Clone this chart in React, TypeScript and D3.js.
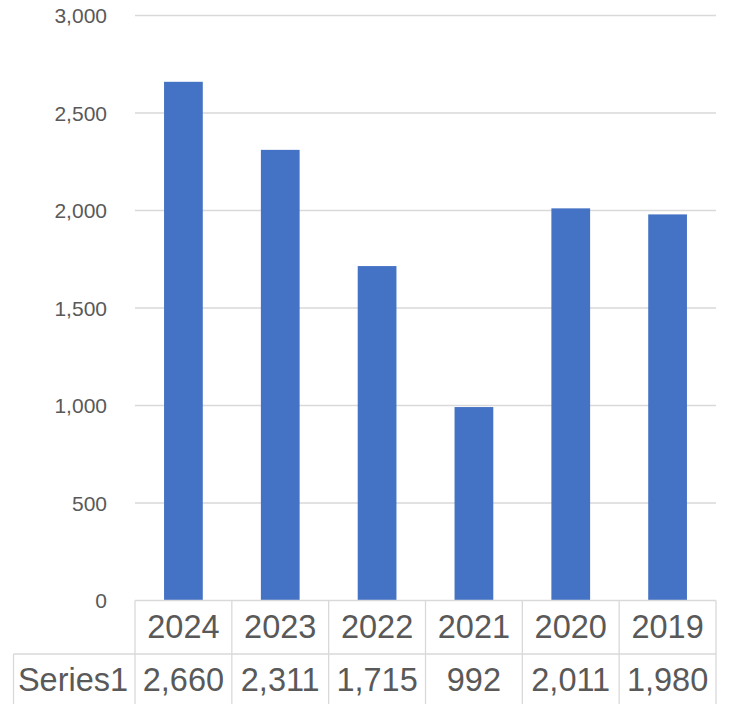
import React, { useRef, useEffect } from 'react';
import * as d3 from 'd3';

// chart data
const categories: string[] = ['2024', '2023', '2022', '2021', '2020', '2019'];
const seriesName = 'Series1';
const values: number[] = [2660, 2311, 1715, 992, 2011, 1980];
const yTicks: number[] = [0, 500, 1000, 1500, 2000, 2500, 3000];

const WIDTH = 730;
const HEIGHT = 704;
const FONT = '"Liberation Sans", Arial, sans-serif';
const TEXT = '#595959';
const LINE = '#d9d9d9';
const BAR = '#4472C4';

const App: React.FC = () => {
  const svgRef = useRef<SVGSVGElement>(null);

  useEffect(() => {
    const svg = d3.select(svgRef.current);
    svg.selectAll('*').remove();

    const plot = { left: 135, right: 716, top: 15.5, bottom: 600.5 };
    const rowH = 53.5;

    const y = d3.scaleLinear().domain([0, 3000]).range([plot.bottom, plot.top]);
    // bars: 40% of each category slot
    const x = d3.scaleBand<string>()
      .domain(categories)
      .range([plot.left, plot.right])
      .paddingInner(0.6)
      .paddingOuter(0.3);
    // data table cells
    const cell = d3.scaleBand<string>()
      .domain(categories)
      .range([plot.left, plot.right]);

    // gridlines
    svg.append('g')
      .selectAll('line')
      .data(yTicks.filter(t => t > 0))
      .join('line')
      .attr('x1', plot.left)
      .attr('x2', plot.right)
      .attr('y1', d => y(d))
      .attr('y2', d => y(d))
      .attr('stroke', LINE)
      .attr('stroke-width', 1.3);

    // y tick labels
    const fmt = d3.format(',');
    svg.append('g')
      .selectAll('text')
      .data(yTicks)
      .join('text')
      .attr('x', 107)
      .attr('y', d => y(d) + 7.6)
      .attr('text-anchor', 'end')
      .attr('font-family', FONT)
      .attr('font-size', 21)
      .attr('fill', TEXT)
      .text(d => fmt(d));

    // bars
    svg.append('g')
      .selectAll('rect')
      .data(values)
      .join('rect')
      .attr('x', (_, i) => x(categories[i]) as number)
      .attr('width', x.bandwidth())
      .attr('y', d => y(d))
      .attr('height', d => y(0) - y(d))
      .attr('fill', BAR);

    // data table borders
    const tbl = svg.append('g')
      .attr('stroke', LINE)
      .attr('stroke-width', 1.3)
      .attr('fill', 'none');
    const tableBottom = plot.bottom + rowH * 2;
    tbl.append('line')
      .attr('x1', plot.left).attr('x2', plot.right)
      .attr('y1', plot.bottom).attr('y2', plot.bottom);
    tbl.append('line')
      .attr('x1', 13.5).attr('x2', plot.right)
      .attr('y1', plot.bottom + rowH).attr('y2', plot.bottom + rowH);
    tbl.append('line')
      .attr('x1', plot.left).attr('x2', plot.right)
      .attr('y1', tableBottom).attr('y2', tableBottom);
    tbl.append('line')
      .attr('x1', 13.5).attr('x2', 13.5)
      .attr('y1', plot.bottom + rowH).attr('y2', tableBottom);
    const edges = categories.map(c => cell(c) as number).concat([plot.right]);
    tbl.selectAll('line.v')
      .data(edges)
      .join('line')
      .attr('class', 'v')
      .attr('x1', d => d).attr('x2', d => d)
      .attr('y1', plot.bottom).attr('y2', tableBottom);

    // table text
    const txt = svg.append('g')
      .attr('font-family', FONT)
      .attr('font-size', 32.5)
      .attr('fill', TEXT)
      .attr('text-anchor', 'middle');
    txt.selectAll('text.cat')
      .data(categories)
      .join('text')
      .attr('class', 'cat')
      .attr('x', d => (cell(d) as number) + cell.bandwidth() / 2)
      .attr('y', 638.3)
      .text(d => d);
    txt.selectAll('text.val')
      .data(values)
      .join('text')
      .attr('class', 'val')
      .attr('x', (_, i) => (cell(categories[i]) as number) + cell.bandwidth() / 2)
      .attr('y', 690.5)
      .text(d => fmt(d));
    txt.append('text')
      .attr('x', 73)
      .attr('y', 690.5)
      .text(seriesName);
  }, []);

  return (
    <svg
      ref={svgRef}
      width={WIDTH}
      height={HEIGHT}
      style={{ position: 'absolute', left: 0, top: 0, background: '#fff' }}
    />
  );
};

export default App;
